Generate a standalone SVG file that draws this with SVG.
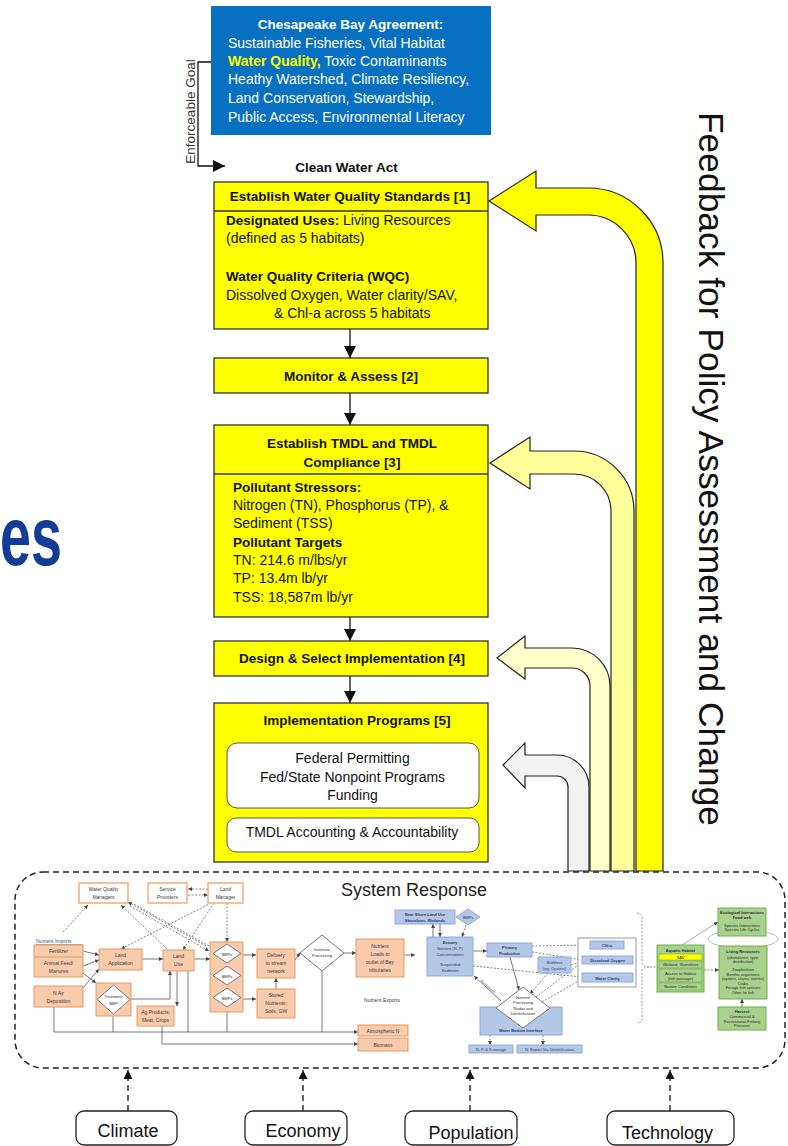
<svg xmlns="http://www.w3.org/2000/svg" width="788" height="1146" viewBox="0 0 788 1146">
<defs>
<style>
text { font-family: "Liberation Sans", Arial, sans-serif; }
.b { font-weight: bold; }
.c { text-anchor: middle; }
.w { fill: #fff; }
.k { fill: #111; }
.t14 { font-size: 14px; }
.t13 { font-size: 13.5px; }
.std { fill: #FFFF00; stroke: #333; stroke-width: 1.3; }
.sub { fill: #fff; stroke: #555; stroke-width: 1; }
.conn { stroke: #111; stroke-width: 1.3; fill: none; }
.fb { stroke: #222; stroke-width: 1.2; }
.dash { stroke: #222; stroke-width: 1.5; stroke-dasharray: 6 4; fill: none; }
.or { fill: #F8CBAD; stroke: #E39A62; stroke-width: 1; }
.orw { fill: #fff; stroke: #F4B183; stroke-width: 1.6; }
.bl { fill: #B4C7E7; stroke: #8FAADC; stroke-width: 1; }
.gr { fill: #A9D18E; stroke: #70AD47; stroke-width: 1; }
.dia { fill: #fff; stroke: #777; stroke-width: 1; }
.s { font-size: 5px; fill: #3a3a3a; text-anchor: middle; }
.xs { font-size: 4px; fill: #2a2a2a; text-anchor: middle; }
.bt { fill: #1F3864; }
.ml { stroke: #555; stroke-width: 0.8; fill: none; }
.md { stroke: #666; stroke-width: 0.8; stroke-dasharray: 2 1.5; fill: none; }
.factor { fill: #fff; stroke: #222; stroke-width: 1.3; }
</style>
<marker id="ah" markerUnits="userSpaceOnUse" markerWidth="12" markerHeight="12" viewBox="0 0 12 12" refX="12" refY="6" orient="auto"><path d="M0,0 L12,6 L0,12 Z" fill="#111"/></marker>
<marker id="ahd" markerUnits="userSpaceOnUse" markerWidth="9" markerHeight="9" viewBox="0 0 9 9" refX="9" refY="4.5" orient="auto"><path d="M0,0 L9,4.5 L0,9 Z" fill="#111"/></marker>
<marker id="sa" markerUnits="userSpaceOnUse" markerWidth="4" markerHeight="4" viewBox="0 0 4 4" refX="4" refY="2" orient="auto"><path d="M0,0 L4,2 L0,4 Z" fill="#444"/></marker>
</defs>

<rect width="788" height="1146" fill="#fff"/>

<!-- title fragment -->
<text x="0" y="565" font-size="84" class="b" fill="#123C96" textLength="62" lengthAdjust="spacingAndGlyphs">es</text>

<!-- side label -->
<text transform="translate(699,112) rotate(90)" font-size="35" fill="#111" textLength="714" lengthAdjust="spacingAndGlyphs">Feedback for Policy Assessment and Change</text>

<g id="connectors">
  <!-- enforceable goal bracket -->
  <path d="M222,62 L198,62 L198,166 L225,166" class="conn" stroke-width="1.5" marker-end="url(#ah)"/>
  <!-- step flow -->
  <line x1="350" y1="329" x2="350" y2="358" class="conn" marker-end="url(#ah)"/>
  <line x1="350" y1="393" x2="350" y2="425" class="conn" marker-end="url(#ah)"/>
  <line x1="350" y1="617" x2="350" y2="641" class="conn" marker-end="url(#ah)"/>
  <line x1="350" y1="676" x2="350" y2="703" class="conn" marker-end="url(#ah)"/>
  <!-- feedback arrows -->
  <path class="fb" fill="#FFFF00" d="M489,201 L536,171 L536,188 L588,188 A75,75 0 0 1 663,263 L663,871 L636,871 L636,263 A48,48 0 0 0 588,215 L536,215 L536,231 Z"/>
  <path class="fb" fill="#FFFF99" d="M490,463 L530,437 L530,451 L574,451 A60,60 0 0 1 634,511 L634,871 L611,871 L611,511 A37,37 0 0 0 574,474 L530,474 L530,489 Z"/>
  <path class="fb" fill="#FFFFCC" d="M497,658 L525,636 L525,648 L572,648 A38,38 0 0 1 610,686 L610,871 L590,871 L590,686 A18,18 0 0 0 572,668 L525,668 L525,679 Z"/>
  <path class="fb" fill="#F2F2F2" d="M503,765 L525,743 L525,755 L557,755 A32,32 0 0 1 589,787 L589,871 L568,871 L568,787 A11,11 0 0 0 557,776 L525,776 L525,788 Z"/>
  <!-- drivers into system response -->
  <line x1="128" y1="1111" x2="128" y2="1070" class="conn" stroke-dasharray="6 4" marker-end="url(#ahd)"/>
  <line x1="303" y1="1111" x2="303" y2="1070" class="conn" stroke-dasharray="6 4" marker-end="url(#ahd)"/>
  <line x1="470" y1="1111" x2="470" y2="1070" class="conn" stroke-dasharray="6 4" marker-end="url(#ahd)"/>
  <line x1="670" y1="1111" x2="670" y2="1070" class="conn" stroke-dasharray="6 4" marker-end="url(#ahd)"/>
</g>

<g id="agreement">
  <rect x="211" y="6" width="280" height="129" fill="#0870C0"/>
  <text x="350.5" y="29" class="t13 b w c">Chesapeake Bay Agreement:</text>
  <text x="228" y="48" class="t14 w">Sustainable Fisheries, Vital Habitat</text>
  <text x="228" y="66" class="t14"><tspan class="b" fill="#FFFF00">Water Quality,</tspan><tspan class="w"> Toxic Contaminants</tspan></text>
  <text x="228" y="84" class="t14 w">Heathy Watershed, Climate Resiliency,</text>
  <text x="228" y="103" class="t14 w">Land Conservation, Stewardship,</text>
  <text x="228" y="122" class="t14 w">Public Access, Environmental Literacy</text>
</g>

<g id="enforceable-goal">
  <text transform="translate(195,111.5) rotate(-90)" font-size="13.5" fill="#333" class="c">Enforceable Goal</text>
</g>

<g id="clean-water-act">
  <text x="346.5" y="172" class="t13 b k c">Clean Water Act</text>
</g>

<g id="step1">
  <rect x="214" y="182" width="274" height="147" class="std"/>
  <line x1="214" y1="211" x2="488" y2="211" stroke="#333" stroke-width="1.3"/>
  <text x="350" y="201" class="t13 b k c">Establish Water Quality Standards [1]</text>
  <text x="226" y="225" class="t14 k"><tspan class="b" font-size="13.5">Designated Uses:</tspan><tspan x="343">Living Resources</tspan></text>
  <text x="226" y="243" class="t14 k">(defined as 5 habitats)</text>
  <text x="226" y="281" class="t13 b k">Water Quality Criteria (WQC)</text>
  <text x="226" y="300" class="t14 k">Dissolved Oxygen, Water clarity/SAV,</text>
  <text x="274" y="318" class="t14 k">&amp; Chl-a across 5 habitats</text>
</g>

<g id="step2">
  <rect x="214" y="358" width="274" height="35" class="std"/>
  <text x="351" y="381" class="t13 b k c">Monitor &amp; Assess [2]</text>
</g>

<g id="step3">
  <rect x="214" y="425" width="274" height="192" class="std"/>
  <line x1="214" y1="474" x2="488" y2="474" stroke="#333" stroke-width="1.3"/>
  <text x="352" y="448" class="t13 b k c">Establish TMDL and TMDL</text>
  <text x="352" y="467" class="t13 b k c">Compliance  [3]</text>
  <text x="233" y="492" class="t13 b k">Pollutant Stressors:</text>
  <text x="233" y="510" class="t14 k">Nitrogen (TN), Phosphorus (TP), &amp;</text>
  <text x="233" y="528" class="t14 k">Sediment (TSS)</text>
  <text x="233" y="547" class="t13 b k">Pollutant Targets</text>
  <text x="233" y="565" class="t14 k">TN: 214.6 m/lbs/yr</text>
  <text x="233" y="583" class="t14 k">TP: 13.4m lb/yr</text>
  <text x="233" y="602" class="t14 k">TSS: 18,587m lb/yr</text>
</g>

<g id="step4">
  <rect x="214" y="641" width="274" height="35" class="std"/>
  <text x="352" y="663" class="t13 b k c">Design &amp; Select Implementation [4]</text>
</g>

<g id="step5">
  <rect x="214" y="703" width="274" height="159" class="std"/>
  <text x="357" y="725" class="t13 b k c">Implementation Programs [5]</text>
  <rect x="227" y="743" width="252" height="65" rx="10" class="sub"/>
  <text x="352.5" y="763" class="t14 k c">Federal Permitting</text>
  <text x="352.5" y="782" class="t14 k c">Fed/State Nonpoint Programs</text>
  <text x="352.5" y="800" class="t14 k c">Funding</text>
  <rect x="227" y="818" width="252" height="34" rx="9" class="sub"/>
  <text x="352" y="837" class="t14 k c">TMDL Accounting  &amp; Accountability</text>
</g>

<g id="system-response">
  <rect x="15" y="872" width="770" height="196" rx="28" class="dash"/>
  <text x="414" y="896" font-size="18" fill="#222" class="c">System Response</text>

  <!-- watershed side: links -->
  <g id="watershed-links">
    <line x1="63" y1="932" x2="88" y2="905" class="md" marker-end="url(#sa)"/>
    <line x1="167" y1="949" x2="121" y2="905" class="md" marker-end="url(#sa)"/>
    <line x1="206" y1="946" x2="128" y2="902" class="md" marker-end="url(#sa)"/>
    <line x1="130" y1="906" x2="209" y2="951" class="md" marker-end="url(#sa)"/>
    <line x1="134" y1="904" x2="209" y2="946" class="md"/>
    <line x1="208" y1="889" x2="188" y2="889" class="md" marker-end="url(#sa)"/>
    <line x1="188" y1="895" x2="208" y2="895" class="md" marker-end="url(#sa)"/>
    <line x1="227" y1="903" x2="227" y2="942" class="md" marker-end="url(#sa)"/>
    <line x1="211" y1="903" x2="121" y2="949" class="md" marker-end="url(#sa)"/>
    <line x1="214" y1="903" x2="183" y2="950" class="md" marker-end="url(#sa)"/>
    <line x1="83" y1="951" x2="99" y2="955" class="ml" marker-end="url(#sa)"/>
    <line x1="83" y1="966" x2="99" y2="960" class="ml" marker-end="url(#sa)"/>
    <line x1="83" y1="988" x2="99" y2="969" class="ml" marker-end="url(#sa)"/>
    <line x1="83" y1="973" x2="96" y2="983" class="ml" marker-end="url(#sa)"/>
    <line x1="142" y1="959" x2="163" y2="959" class="ml" marker-end="url(#sa)"/>
    <polyline points="131,999 170,999 170,971" class="ml" marker-end="url(#sa)"/>
    <line x1="177" y1="971" x2="177" y2="1006" class="ml" marker-end="url(#sa)"/>
    <line x1="194" y1="959" x2="210" y2="959" class="ml" marker-end="url(#sa)"/>
    <line x1="188" y1="971" x2="188" y2="1032" class="ml"/>
    <line x1="54" y1="1007" x2="54" y2="1032" class="ml"/>
    <line x1="113" y1="1016" x2="113" y2="1032" class="ml"/>
    <line x1="227" y1="1012" x2="227" y2="1032" class="ml"/>
    <line x1="322" y1="971" x2="322" y2="1032" class="ml"/>
    <line x1="54" y1="1032" x2="358" y2="1032" class="ml" marker-end="url(#sa)"/>
    <polyline points="162,1026 162,1044 358,1044" class="ml" marker-end="url(#sa)"/>
    <line x1="243" y1="955" x2="256" y2="955" class="ml" marker-end="url(#sa)"/>
    <line x1="243" y1="999" x2="256" y2="999" class="ml" marker-end="url(#sa)"/>
    <line x1="276" y1="989" x2="276" y2="978" class="ml" marker-end="url(#sa)"/>
    <line x1="295" y1="960" x2="300" y2="953" class="ml" marker-end="url(#sa)"/>
    <line x1="344" y1="953" x2="356" y2="953" class="ml" marker-end="url(#sa)"/>
    <line x1="404" y1="955" x2="415" y2="955" class="ml" marker-end="url(#sa)"/>
  </g>

  <g id="wq-managers">
    <rect x="79" y="883" width="49" height="20" class="orw"/>
    <text x="103.5" y="891" class="s">Water Quality</text>
    <text x="103.5" y="899" class="s">Managers</text>
  </g>
  <g id="service-providers">
    <rect x="148" y="883" width="39" height="20" class="orw"/>
    <text x="167.5" y="891" class="s">Service</text>
    <text x="167.5" y="899" class="s">Providers</text>
  </g>
  <g id="land-manager">
    <rect x="208" y="883" width="35" height="20" class="orw"/>
    <text x="225.5" y="891" class="s">Land</text>
    <text x="225.5" y="899" class="s">Manager</text>
  </g>
  <g id="nutrient-imports">
    <text x="36" y="943" font-size="5" fill="#44546A">Nutrient Imports</text>
    <line x1="36" y1="944.5" x2="83" y2="944.5" stroke="#44546A" stroke-width="0.5"/>
    <rect x="34" y="945" width="49" height="32" class="or"/>
    <line x1="34" y1="957" x2="83" y2="957" stroke="#E39A62" stroke-width="1"/>
    <text x="58.5" y="953" class="s">Fertilizer</text>
    <text x="58.5" y="965" class="s">Animal Feed/</text>
    <text x="58.5" y="973" class="s">Manures</text>
  </g>
  <g id="n-air-deposition">
    <rect x="34" y="986" width="49" height="21" class="or"/>
    <text x="58.5" y="995" class="s">N Air</text>
    <text x="58.5" y="1003" class="s">Deposition</text>
  </g>
  <g id="land-application">
    <rect x="99" y="949" width="43" height="21" class="or"/>
    <text x="120.5" y="957" class="s">Land</text>
    <text x="120.5" y="965" class="s">Application</text>
  </g>
  <g id="land-use">
    <rect x="163" y="950" width="31" height="21" class="or"/>
    <text x="178.5" y="958" class="s">Land</text>
    <text x="178.5" y="966" class="s">Use</text>
  </g>
  <g id="treatment-bmp">
    <rect x="96" y="983" width="35" height="33" class="or"/>
    <polygon points="113.5,985 130,999.5 113.5,1014 97,999.5" class="dia"/>
    <text x="113.5" y="998" class="xs" fill="#6A7FB0">Treatment</text>
    <text x="113.5" y="1005" class="xs">BMP</text>
  </g>
  <g id="ag-products">
    <rect x="137" y="1006" width="37" height="20" class="or"/>
    <text x="155.5" y="1014" class="s">Ag Products:</text>
    <text x="155.5" y="1022" class="s">Meat, Crops</text>
  </g>
  <g id="bmps">
    <rect x="210" y="942" width="33" height="70" class="or"/>
    <polygon points="227,944 241,953.5 227,963 213,953.5" class="dia"/>
    <polygon points="227,966 241,975.5 227,985 213,975.5" class="dia"/>
    <polygon points="227,988 241,997.5 227,1007 213,997.5" class="dia"/>
    <text x="227" y="955.5" class="xs">BMPs</text>
    <text x="227" y="977.5" class="xs">BMPs</text>
    <text x="227" y="999.5" class="xs">BMPs</text>
  </g>
  <g id="delivery">
    <rect x="257" y="949" width="38" height="29" class="or"/>
    <text x="276" y="957" class="s">Delivery</text>
    <text x="276" y="965" class="s">to stream</text>
    <text x="276" y="973" class="s">network</text>
  </g>
  <g id="stored-nutrients">
    <rect x="257" y="989" width="38" height="29" class="or"/>
    <text x="276" y="997" class="s">Stored</text>
    <text x="276" y="1005" class="s">Nutrients:</text>
    <text x="276" y="1013" class="s">Soils, GW</text>
  </g>
  <g id="instream">
    <polygon points="322,935 344,953 322,971 300,953" class="dia"/>
    <text x="322" y="951" class="xs">Instream</text>
    <text x="322" y="957" class="xs">Processing</text>
  </g>
  <g id="nutrient-loads">
    <rect x="356" y="939" width="48" height="38" class="or"/>
    <text x="380" y="948" class="s">Nutrient</text>
    <text x="380" y="956" class="s">Loads to</text>
    <text x="380" y="964" class="s">outlet of Bay</text>
    <text x="380" y="972" class="s">tributaries</text>
  </g>
  <text x="382" y="1002" class="s">Nutrient Exports</text>
  <g id="atmospheric-n">
    <rect x="358" y="1025" width="50" height="11" class="or"/>
    <text x="383" y="1032.5" class="s">Atmospheric N</text>
  </g>
  <g id="biomass">
    <rect x="358" y="1038" width="50" height="13" class="or"/>
    <text x="383" y="1046.5" class="s">Biomass</text>
  </g>

  <!-- estuary side: links -->
  <g id="estuary-links">
    <line x1="433" y1="937" x2="433" y2="924" class="ml" marker-end="url(#sa)"/>
    <line x1="440" y1="924" x2="440" y2="937" class="ml" marker-end="url(#sa)"/>
    <line x1="466" y1="925" x2="462" y2="937" class="md" marker-end="url(#sa)"/>
    <line x1="473" y1="951" x2="487" y2="951" class="ml" marker-end="url(#sa)"/>
    <line x1="510" y1="957" x2="519" y2="990" class="ml" marker-end="url(#sa)"/>
    <line x1="501" y1="1001" x2="474" y2="976" class="ml" marker-end="url(#sa)"/>
    <text transform="translate(487,987) rotate(42)" font-size="3" fill="#444" class="c">Resuspension</text>
    <line x1="532" y1="946" x2="590" y2="945" class="md" marker-end="url(#sa)"/>
    <line x1="532" y1="952" x2="582" y2="960" class="md" marker-end="url(#sa)"/>
    <line x1="571" y1="965" x2="582" y2="962" class="md" marker-end="url(#sa)"/>
    <line x1="473" y1="966" x2="582" y2="977" class="md" marker-end="url(#sa)"/>
    <line x1="548" y1="973" x2="530" y2="994" class="md" marker-end="url(#sa)"/>
    <line x1="536" y1="997" x2="582" y2="962" class="md" marker-end="url(#sa)"/>
    <line x1="542" y1="1002" x2="582" y2="979" class="md" marker-end="url(#sa)"/>
    <line x1="490" y1="1035" x2="490" y2="1045" class="md" marker-end="url(#sa)"/>
    <line x1="543" y1="1035" x2="543" y2="1045" class="md" marker-end="url(#sa)"/>
  </g>
  <g id="near-shore">
    <rect x="395" y="910" width="60" height="14" class="bl"/>
    <text x="425" y="916" class="xs b bt">Near Shore Land Use</text>
    <text x="425" y="921.5" class="xs b bt">Shorelines, Wetlands</text>
  </g>
  <g id="estuary-bmps">
    <polygon points="468,909 480,917 468,925 456,917" class="bl"/>
    <text x="468" y="918.5" class="xs" fill="#1F3864">BMPs</text>
  </g>
  <g id="estuary">
    <rect x="427" y="937" width="46" height="39" class="bl"/>
    <text x="450" y="944" class="xs b bt">Estuary</text>
    <text x="450" y="950" class="xs bt">Nutrient (N, P)</text>
    <text x="450" y="955.5" class="xs bt">Concentrations</text>
    <text x="450" y="966" class="xs bt">Suspended</text>
    <text x="450" y="971.5" class="xs bt">Sediment</text>
  </g>
  <g id="primary-production">
    <rect x="487" y="943" width="45" height="14" class="bl"/>
    <text x="509.5" y="949" class="xs b bt">Primary</text>
    <text x="509.5" y="954.5" class="xs b bt">Production</text>
  </g>
  <g id="biofilters">
    <rect x="538" y="957" width="33" height="16" class="bl"/>
    <text x="554.5" y="964" class="xs bt">Biofilters</text>
    <text x="554.5" y="969.5" class="xs bt">(eg, Oysters)</text>
  </g>
  <g id="water-quality-outcomes">
    <rect x="578" y="938" width="58" height="49" fill="#fff" stroke="#999" stroke-width="1"/>
    <rect x="590" y="941" width="34" height="8" class="bl"/>
    <text x="607" y="947" class="xs b bt">Chl-a</text>
    <rect x="582" y="956" width="51" height="8" class="bl"/>
    <text x="607.5" y="962" class="xs b bt">Dissolved Oxygen</text>
    <rect x="582" y="973" width="51" height="9" class="bl"/>
    <text x="607.5" y="979.5" class="xs b bt">Water Clarity</text>
  </g>
  <g id="water-bottom">
    <rect x="480" y="1007" width="82" height="28" class="bl"/>
    <text x="521" y="1032" class="xs b bt">Water Bottom Interface</text>
  </g>
  <g id="nutrient-processing">
    <polygon points="523,987 550,1008 523,1028 496,1008" class="dia"/>
    <text x="523" y="999" class="xs" font-size="3.5">Nutrient</text>
    <text x="523" y="1004" class="xs" font-size="3.5">Processing</text>
    <text x="523" y="1010" class="xs" font-size="3.5">Redox and</text>
    <text x="523" y="1015" class="xs" font-size="3.5">Denitrification</text>
  </g>
  <g id="storage">
    <rect x="469" y="1045" width="44" height="8" class="bl"/>
    <text x="491" y="1051" class="xs bt">N, P, &amp; S storage</text>
  </g>
  <g id="denitrification">
    <rect x="517" y="1045" width="65" height="8" class="bl"/>
    <text x="549.5" y="1051" class="xs bt">N. Export Via Denitrification</text>
  </g>

  <!-- living resources side -->
  <g id="living-links">
    <path d="M637,913 Q642,913 642,918 L642,962 Q642,967 650,967 Q642,967 642,972 L642,1018 Q642,1023 637,1023" fill="none" stroke="#999" stroke-width="1" stroke-dasharray="2 1.5"/>
    <line x1="650" y1="967" x2="657" y2="967" class="md"/>
    <ellipse cx="743" cy="939" rx="35" ry="9" fill="none" stroke="#bbb" stroke-width="1"/>
    <line x1="682" y1="945" x2="718" y2="922" stroke="#aaa" stroke-width="1" marker-end="url(#sa)"/>
    <line x1="704" y1="970" x2="719" y2="970" class="md" marker-end="url(#sa)"/>
    <line x1="742" y1="1007" x2="742" y2="999" class="ml" marker-end="url(#sa)"/>
  </g>
  <g id="aquatic-habitat">
    <rect x="657" y="945" width="47" height="47" class="gr"/>
    <text x="680.5" y="951.5" class="xs b" font-size="3.5">Aquatic Habitat</text>
    <rect x="659" y="954" width="43" height="6" fill="#FFFF00" stroke="#70AD47" stroke-width="0.6"/>
    <text x="680.5" y="958.5" class="xs" font-size="3.5">SAV</text>
    <rect x="659" y="961" width="43" height="7" fill="#A9D18E" stroke="#70AD47" stroke-width="0.6"/>
    <text x="680.5" y="966" class="xs" font-size="3.5">Wetland, Shorelines</text>
    <rect x="659" y="969" width="43" height="13" fill="#A9D18E" stroke="#70AD47" stroke-width="0.6"/>
    <text x="680.5" y="974.5" class="xs" font-size="3.5">Access to Habitat</text>
    <text x="680.5" y="979.5" class="xs" font-size="3.5">(fish passage)</text>
    <rect x="659" y="983" width="43" height="7" fill="#A9D18E" stroke="#70AD47" stroke-width="0.6"/>
    <text x="680.5" y="988" class="xs" font-size="3.5">Bottom Conditions</text>
  </g>
  <g id="ecological-interactions">
    <rect x="718" y="908" width="48" height="28" class="gr"/>
    <text x="742" y="914" class="xs b" font-size="3.5">Ecological Interactions</text>
    <text x="742" y="918.5" class="xs b" font-size="3.5">Food web</text>
    <text x="742" y="926.5" class="xs" font-size="3.5">Species Interactions</text>
    <text x="742" y="931" class="xs" font-size="3.5">Species Life Cycles</text>
  </g>
  <g id="living-resources">
    <rect x="719" y="946" width="48" height="53" class="gr" stroke="#3A5A28" stroke-width="2"/>
    <text x="743" y="953" class="xs b" font-size="3.6">Living Resources</text>
    <text x="743" y="958.5" class="xs" font-size="3.3">(abundance, type,</text>
    <text x="743" y="963" class="xs" font-size="3.3">distribution)</text>
    <text x="743" y="971" class="xs" font-size="3.3">Zooplankton</text>
    <text x="743" y="975.5" class="xs" font-size="3.3">Benthic organisms</text>
    <text x="743" y="980" class="xs" font-size="3.3">(oysters, clams, worms)</text>
    <text x="743" y="984.5" class="xs" font-size="3.3">Crabs</text>
    <text x="743" y="989" class="xs" font-size="3.3">Forage fish species</text>
    <text x="743" y="993.5" class="xs" font-size="3.3">Other fin fish</text>
  </g>
  <g id="harvest">
    <rect x="718" y="1007" width="48" height="23" class="gr"/>
    <text x="742" y="1013" class="xs b" font-size="3.5">Harvest</text>
    <text x="742" y="1018" class="xs" font-size="3.5">Commercial &amp;</text>
    <text x="742" y="1022.5" class="xs" font-size="3.5">Recreational Fishing</text>
    <text x="742" y="1027" class="xs" font-size="3.5">Pressure</text>
  </g>
</g>

<g id="climate">
  <rect x="76" y="1111" width="101" height="34" rx="8" class="factor"/>
  <text x="128" y="1137" font-size="18" fill="#111" class="c">Climate</text>
</g>
<g id="economy">
  <rect x="245" y="1111" width="102" height="34" rx="8" class="factor"/>
  <text x="303" y="1137" font-size="18" fill="#111" class="c">Economy</text>
</g>
<g id="population">
  <rect x="405" y="1111" width="112" height="34" rx="8" class="factor"/>
  <text x="471" y="1139" font-size="18" fill="#111" class="c">Population</text>
</g>
<g id="technology">
  <rect x="607" y="1111" width="127" height="34" rx="8" class="factor"/>
  <text x="667.5" y="1139" font-size="18" fill="#111" class="c">Technology</text>
</g>
</svg>
